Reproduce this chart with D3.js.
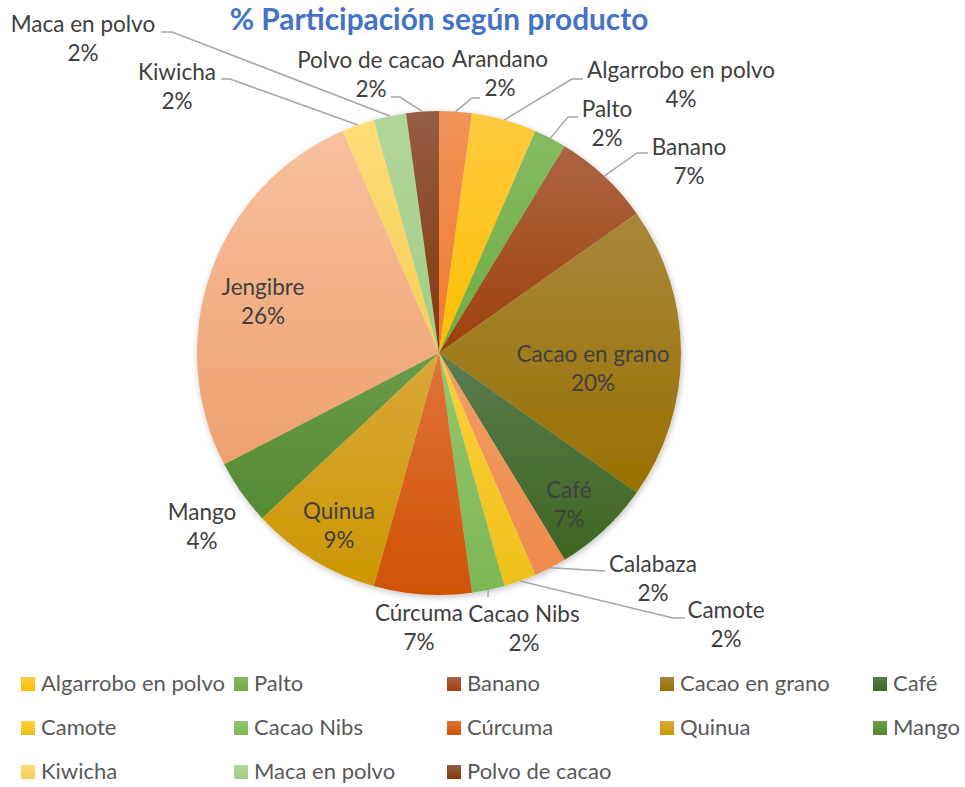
<!DOCTYPE html>
<html>
<head>
<meta charset="utf-8">
<script src="https://cdn.jsdelivr.net/npm/d3@7"></script>
<style>
  html, body { margin: 0; padding: 0; background: #fff; }
  svg { display: block; }
</style>
</head>
<body>
<script>
// ---- data ----
const categories = ["Arandano", "Algarrobo en polvo", "Palto", "Banano", "Cacao en grano", "Café",
  "Calabaza", "Camote", "Cacao Nibs", "Cúrcuma", "Quinua", "Mango", "Jengibre", "Kiwicha",
  "Maca en polvo", "Polvo de cacao"];
const values = [1, 2, 1, 3, 9, 3, 1, 1, 1, 3, 4, 2, 12, 1, 1, 1];
const legendItems = ["Algarrobo en polvo", "Palto", "Banano", "Cacao en grano", "Café",
  "Camote", "Cacao Nibs", "Cúrcuma", "Quinua", "Mango",
  "Kiwicha", "Maca en polvo", "Polvo de cacao"];
const titleText = "% Participación según producto";

// ---- styles (colour top -> bottom gradient per slice) ----
const colors = {
  "Arandano": ["#F29459", "#F07A28"],
  "Algarrobo en polvo": ["#FFC93F", "#FBBF00"],
  "Palto": ["#84BA62", "#6FAD42"],
  "Banano": ["#AD6443", "#9E400A"],
  "Cacao en grano": ["#A8873C", "#997000"],
  "Café": ["#5A7D4E", "#3E6521"],
  "Calabaza": ["#F39E66", "#EE8A4C"],
  "Camote": ["#FFD03A", "#EDC11B"],
  "Cacao Nibs": ["#94C86E", "#7DB653"],
  "Cúrcuma": ["#E1733A", "#D05205"],
  "Quinua": ["#D9A83A", "#CC9700"],
  "Mango": ["#6A9A4B", "#548A33"],
  "Jengibre": ["#F7C09E", "#EEA06F"],
  "Kiwicha": ["#FFDD78", "#F5CF58"],
  "Maca en polvo": ["#B2D69A", "#A3CD87"],
  "Polvo de cacao": ["#965C46", "#83380A"]
};

// ---- layout ----
const W = 965, H = 787;
const cx = 439, cy = 353, R = 242;
const labelFont = "Lato, 'Noto Sans', sans-serif";
const labelSize = 22.5, lineGap = 28.5;

// label placement: centre x, first baseline, leader elbow points (slice point is computed)
const labelLayout = {
  "Arandano": {x: 500, y: 67, leader: [[472, 98], [480, 98]]},
  "Algarrobo en polvo": {x: 681, y: 78, leader: [[572, 79], [583, 79]]},
  "Palto": {x: 607, y: 117, leader: [[568, 117], [578, 117]]},
  "Banano": {x: 689, y: 155, leader: [[637, 153], [648, 153]]},
  "Cacao en grano": {x: 593, y: 362},
  "Café": {x: 569, y: 498},
  "Calabaza": {x: 653, y: 572, leader: [[605, 571]]},
  "Camote": {x: 726, y: 618, leader: [[673, 618], [685, 618]]},
  "Cacao Nibs": {x: 524, y: 622, leader: [[488, 597]]},
  "Cúrcuma": {x: 419, y: 621},
  "Quinua": {x: 339, y: 519},
  "Mango": {x: 202, y: 520},
  "Jengibre": {x: 263, y: 295},
  "Kiwicha": {x: 177, y: 80, leader: [[230, 79], [221, 79]]},
  "Maca en polvo": {x: 83, y: 32, leader: [[172, 32], [161, 32]]},
  "Polvo de cacao": {x: 371, y: 68, leader: [[400, 97], [391, 97]]}
};

const legendCols = [21, 234, 447, 660, 873];
const legendRows = [677, 721, 765];

const svg = d3.select("body").append("svg").attr("width", W).attr("height", H);
const defs = svg.append("defs");

const shadow = defs.append("filter").attr("id", "shadow")
  .attr("x", "-10%").attr("y", "-10%").attr("width", "120%").attr("height", "120%");
shadow.append("feDropShadow").attr("dx", 1).attr("dy", 2).attr("stdDeviation", 3)
  .attr("flood-color", "#000").attr("flood-opacity", 0.25);

categories.forEach((c, i) => {
  const g = defs.append("linearGradient").attr("id", "grad" + i)
    .attr("x1", 0).attr("y1", 0).attr("x2", 0).attr("y2", 1);
  g.append("stop").attr("offset", "0%").attr("stop-color", colors[c][0]);
  g.append("stop").attr("offset", "100%").attr("stop-color", colors[c][1]);
});

// title
svg.append("text")
  .attr("x", 439).attr("y", 30)
  .attr("text-anchor", "middle")
  .attr("font-family", labelFont)
  .attr("font-weight", "bold")
  .attr("font-size", 29.8)
  .attr("fill", "#4472C4")
  .text(titleText);

// pie
const total = d3.sum(values);
const pie = d3.pie().sort(null).value(d => d.v).startAngle(0).endAngle(2 * Math.PI);
const arcs = pie(categories.map((c, i) => ({name: c, v: values[i], i})));
const arc = d3.arc().innerRadius(0).outerRadius(R);

const pieG = svg.append("g").attr("transform", `translate(${cx},${cy})`);
pieG.append("g").attr("filter", "url(#shadow)")
  .selectAll("path").data(arcs).join("path")
  .attr("d", arc)
  .attr("fill", d => `url(#grad${d.data.i})`);

// leader lines
const leaderG = svg.append("g");
arcs.forEach(d => {
  const L = labelLayout[d.data.name];
  if (!L.leader) return;
  const mid = (d.startAngle + d.endAngle) / 2;
  const p0 = [cx + R * Math.sin(mid), cy - R * Math.cos(mid)];
  const pts = [p0].concat(L.leader);
  leaderG.append("path")
    .attr("d", d3.line()(pts))
    .attr("fill", "none")
    .attr("stroke", "#A6A6A6")
    .attr("stroke-width", 1.5);
});

// data labels
const fmt = d3.format(".0%");
const labG = svg.append("g")
  .attr("font-family", labelFont)
  .attr("font-size", labelSize)
  .attr("fill", "#404040")
  .attr("text-anchor", "middle");
arcs.forEach(d => {
  const L = labelLayout[d.data.name];
  const t = labG.append("text").attr("x", L.x).attr("y", L.y);
  t.append("tspan").attr("x", L.x).attr("y", L.y).text(d.data.name);
  t.append("tspan").attr("x", L.x).attr("y", L.y + lineGap).text(fmt(d.data.v / total));
});

// legend
const legG = svg.append("g")
  .attr("font-family", labelFont)
  .attr("font-size", 22)
  .attr("fill", "#595959");
legendItems.forEach((name, k) => {
  const col = k % 5, row = Math.floor(k / 5);
  const x = legendCols[col], y = legendRows[row];
  const i = categories.indexOf(name);
  legG.append("rect").attr("x", x).attr("y", y).attr("width", 14).attr("height", 14)
    .attr("fill", `url(#grad${i})`);
  legG.append("text").attr("x", x + 20).attr("y", y + 14).text(name);
});
</script>
</body>
</html>
